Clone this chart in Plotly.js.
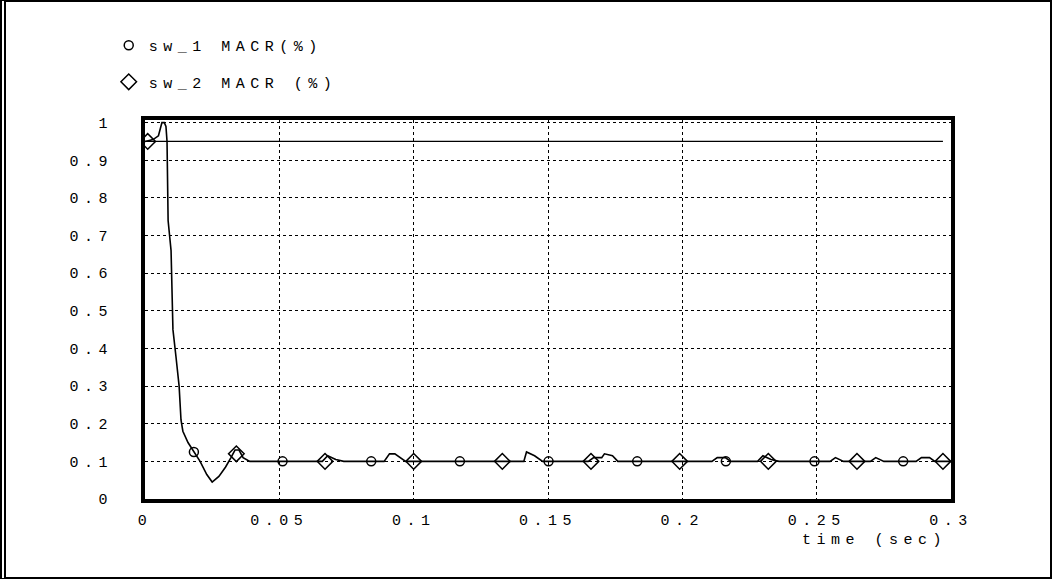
<!DOCTYPE html>
<html>
<head>
<meta charset="utf-8">
<script src="https://cdn.plot.ly/plotly-3.0.1.min.js"></script>
<style>
  html, body { margin: 0; padding: 0; background: #fff; }
  #wrap { position: relative; width: 1052px; height: 579px; }
  #chart { position: absolute; left: 0; top: 0; width: 1052px; height: 579px; }
  #frame { position: absolute; left: 0; top: 0; width: 1052px; height: 579px; box-sizing: border-box;
           border: 2px solid #000; border-left: 6px double #000; pointer-events: none; }
  .xtick text, .ytick text, .legendtext, .annotation-text { letter-spacing: 5.5px; }
</style>
</head>
<body>
<div id="wrap">
  <div id="chart"></div>
  <div id="frame"></div>
</div>
<script>
// sw_1 MACR(%) curve (time in s, value)
const sw1T = [0, 0.003, 0.005, 0.0058, 0.0063, 0.0072, 0.0078, 0.0082, 0.0086, 0.0097, 0.0104, 0.0115, 0.0127, 0.0134,
  0.0141, 0.016, 0.0182, 0.0205, 0.023, 0.025, 0.0275, 0.03, 0.032, 0.0335, 0.035, 0.0365, 0.039,
  0.066, 0.068, 0.071, 0.074, 0.089, 0.091, 0.093, 0.097, 0.141, 0.142, 0.145, 0.148,
  0.165, 0.167, 0.17, 0.171, 0.174, 0.176, 0.211, 0.213, 0.216, 0.218, 0.228, 0.23, 0.233, 0.236,
  0.255, 0.257, 0.26, 0.27, 0.272, 0.275, 0.287, 0.289, 0.292, 0.294, 0.3];
const sw1V = [0.95, 0.955, 0.965, 0.99, 1.0, 1.0, 0.99, 0.95, 0.74, 0.66, 0.45, 0.38, 0.3, 0.21,
  0.18, 0.15, 0.125, 0.1, 0.065, 0.045, 0.06, 0.085, 0.11, 0.13, 0.13, 0.11, 0.1,
  0.1, 0.115, 0.105, 0.1, 0.1, 0.12, 0.12, 0.1, 0.1, 0.125, 0.115, 0.1,
  0.1, 0.11, 0.11, 0.12, 0.115, 0.1, 0.1, 0.11, 0.11, 0.1, 0.1, 0.115, 0.105, 0.1,
  0.1, 0.11, 0.1, 0.1, 0.11, 0.1, 0.1, 0.11, 0.11, 0.1, 0.1];

// horizontal reference level
const refT = [0, 0.297];
const refV = [0.95, 0.95];

// marker samples
const sw1MarkT = [0.0182, 0.0512, 0.0842, 0.1172, 0.1502, 0.1832, 0.2162, 0.2492, 0.2822];
const sw1MarkV = [0.125, 0.1, 0.1, 0.1, 0.1, 0.1, 0.1, 0.1, 0.1];
const sw2MarkT = [0.001, 0.034, 0.067, 0.1, 0.133, 0.166, 0.199, 0.232, 0.265, 0.297];
const sw2MarkV = [0.95, 0.12, 0.1, 0.1, 0.1, 0.1, 0.1, 0.1, 0.1, 0.1];

const seriesNames = ["sw_1 MACR(%)", "sw_2 MACR (%)"];
const xTicks = [0, 0.05, 0.1, 0.15, 0.2, 0.25, 0.3];
const xTickText = ["0", "0.05", "0.1", "0.15", "0.2", "0.25", "0.3"];
const yTicks = [0, 0.1, 0.2, 0.3, 0.4, 0.5, 0.6, 0.7, 0.8, 0.9, 1];
const yTickText = ["0", "0.1", "0.2", "0.3", "0.4", "0.5", "0.6", "0.7", "0.8", "0.9", "1"];
const xTitle = "time (sec)";

const mono = {family: "Liberation Mono, DejaVu Sans Mono, monospace", size: 15, color: "#000"};

const traces = [
  {x: refT, y: refV, mode: "lines", line: {color: "#000", width: 1.3}, showlegend: false, hoverinfo: "skip"},
  {x: sw1T, y: sw1V, mode: "lines", line: {color: "#000", width: 1.6}, showlegend: false, hoverinfo: "skip"},
  {x: sw1MarkT, y: sw1MarkV, mode: "markers", name: seriesNames[0], legendgroup: "a",
   marker: {symbol: "circle-open", size: 9, color: "#000", line: {width: 1.5}}},
  {x: sw2MarkT, y: sw2MarkV, mode: "markers", name: seriesNames[1], legendgroup: "b",
   marker: {symbol: "diamond-open", size: 12, color: "#000", line: {width: 1.5}}}
];

const layout = {
  width: 1052, height: 579,
  margin: {l: 145, r: 101, t: 120, b: 80},
  paper_bgcolor: "#fff", plot_bgcolor: "#fff",
  font: mono,
  showlegend: true,
  legend: {x: -0.045, y: 1.24, xanchor: "left", yanchor: "top", traceorder: "grouped",
           tracegroupgap: 14, font: mono, bgcolor: "rgba(0,0,0,0)", itemwidth: 30},
  xaxis: {range: [0, 0.3], tickvals: xTicks, ticktext: xTickText, showline: true, mirror: true,
          linewidth: 4, linecolor: "#000", showgrid: true, gridcolor: "#000", griddash: "dot",
          gridwidth: 1, zeroline: false, ticks: "", tickfont: mono, ticklabelstandoff: 4},
  yaxis: {range: [0, 1.007], tickvals: yTicks, ticktext: yTickText, showline: true, mirror: true,
          linewidth: 4, linecolor: "#000", showgrid: true, gridcolor: "#000", griddash: "dot",
          gridwidth: 1, zeroline: false, ticks: "", tickfont: mono, ticklabelstandoff: 25},
  annotations: [{text: xTitle, xref: "paper", yref: "paper", x: 0.905, y: -0.11, xanchor: "center",
                 yanchor: "middle", showarrow: false, font: mono}]
};

Plotly.newPlot("chart", traces, layout, {displayModeBar: false, staticPlot: true});
</script>
</body>
</html>
